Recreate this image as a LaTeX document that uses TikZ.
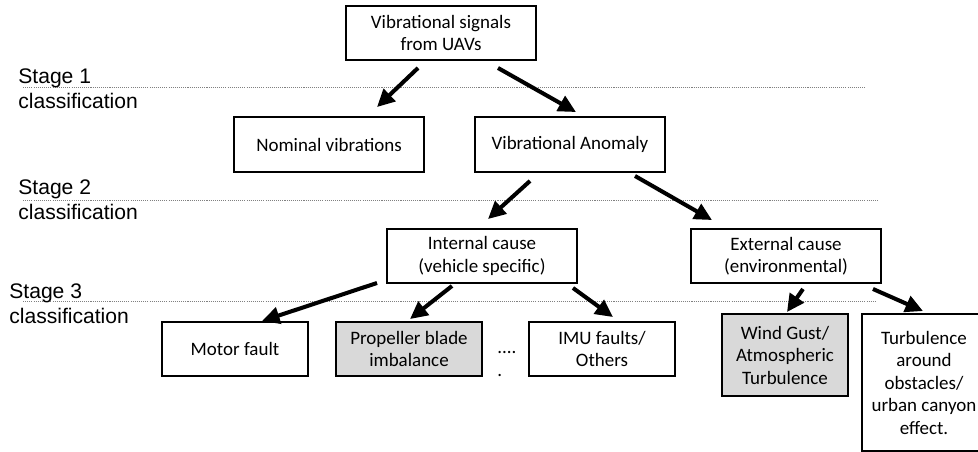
\documentclass[tikz,border=0pt]{standalone}
\usepackage{fontspec}
\setmainfont{Carlito}
\newfontfamily\stagefont{Liberation Sans}
\usetikzlibrary{arrows.meta}
\tikzset{
	block/.style={draw, line width=1.1pt, align=center, inner sep=2pt,
			minimum width=3.8cm, minimum height=1.08cm,
			font=\fontsize{10.8}{12.8}\selectfont},
	smallblock/.style={block, minimum width=2.92cm},
	shaded/.style={fill=black!15},
	stagelabel/.style={anchor=north west, align=left, inner sep=0pt,
			font=\stagefont\fontsize{12}{14.2}\selectfont},
	divider/.style={gray, line width=0.5pt, dash pattern=on 0.6pt off 0.6pt},
	flow/.style={line width=2.3pt, -{Triangle[length=10pt,width=9.5pt]}}
}

\begin{document}
\begin{tikzpicture}
		\useasboundingbox (0,0) rectangle (19.56,-9.02);
		\clip (0,0) rectangle (19.56,-9.02);
		
		% stage separators
		\draw[divider] (0.46,-1.74) -- (17.3,-1.74);
		\draw[divider] (0.46,-4.0) -- (17.58,-4.0);
		\draw[divider] (0.46,-6.02) -- (17.54,-6.02);
		\node[stagelabel] (s1) at (0.36,-1.36) {Stage 1\\classification};
		\node[stagelabel] (s2) at (0.36,-3.58) {Stage 2\\classification};
		\node[stagelabel] (s3) at (0.18,-5.66) {Stage 3\\classification};
		
		% tree
		\node[block] (uav) at (8.82,-0.66) {Vibrational signals\\from UAVs};
		\node[block, minimum height=1.1cm] (nom) at (6.58,-2.89) {Nominal vibrations};
		\node[block, minimum height=1.1cm] (anom) at (11.4,-2.89) {Vibrational Anomaly};
		\node[block] (intc) at (9.64,-5.12) {Internal cause\\(vehicle specific)};
		\node[block] (extc) at (15.72,-5.12) {External cause\\(environmental)};
		\node[smallblock] (motor) at (4.7,-6.98) {Motor fault};
		\node[smallblock, shaded] (prop) at (8.18,-6.98) {Propeller blade\\imbalance};
		\node[smallblock] (imu) at (12.04,-6.98) {IMU faults/\\Others};
		\node[anchor=north west, align=left, inner sep=0pt, font=\fontsize{10.8}{12.8}\selectfont]
			(dots) at (9.94,-7.02) {....\\.};
		\node[smallblock, shaded, minimum width=2.52cm, minimum height=1.64cm]
			(wind) at (15.7,-7.1) {Wind Gust/\\Atmospheric\\Turbulence};
		% right side runs past the page edge
		\node[smallblock, draw=none, minimum width=2.44cm, minimum height=2.7cm] (turb) at (18.48,-7.65)
			{Turbulence\\around\\obstacles/\\urban canyon\\effect.};
		\draw[line width=1.1pt] (turb.north west) rectangle ([xshift=0.4cm]turb.south east);
		
		\draw[flow] ([xshift=-0.46cm, yshift=-0.14cm]uav.south) -- ([xshift=0.96cm, yshift=0.18cm]nom.north);
		\draw[flow] ([xshift=1.14cm, yshift=-0.14cm]uav.south) -- ([xshift=0.12cm, yshift=0.08cm]anom.north);
		\draw[flow] ([xshift=-0.8cm, yshift=-0.16cm]anom.south) -- ([xshift=0.12cm, yshift=0.18cm]intc.north);
		\draw[flow] ([xshift=1.3cm, yshift=-0.06cm]anom.south) -- ([xshift=-1.48cm, yshift=0.16cm]extc.north);
		\draw[flow] ([xshift=-0.18cm, yshift=0.02cm]intc.south west) -- ([xshift=0.54cm]motor.north);
		\draw[flow] ([xshift=-0.6cm, yshift=-0.04cm]intc.south) -- ([xshift=0.02cm, yshift=0.04cm]prop.north);
		\draw[flow] ([xshift=-0.1cm, yshift=-0.08cm]intc.south east) -- ([xshift=0.22cm, yshift=0.08cm]imu.north);
		\draw[flow] ([xshift=0.34cm, yshift=-0.1cm]extc.south) -- ([xshift=0.04cm, yshift=0.02cm]wind.north);
		\draw[flow] ([xshift=-0.18cm, yshift=-0.1cm]extc.south east) -- ([xshift=-0.02cm, yshift=0.06cm]turb.north);
	\end{tikzpicture}
\end{document}
